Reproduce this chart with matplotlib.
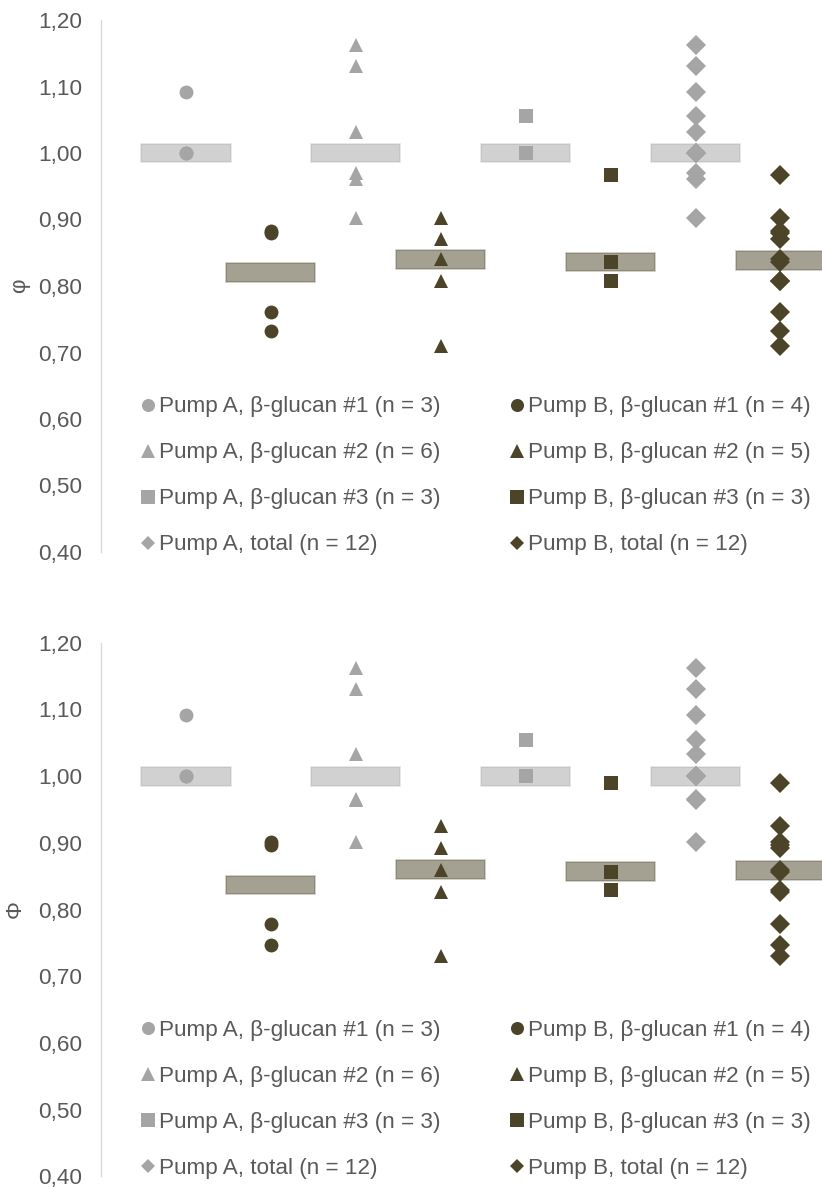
import numpy as np
import matplotlib
matplotlib.use("Agg")
import matplotlib.pyplot as plt
from matplotlib.lines import Line2D
from matplotlib.ticker import FuncFormatter

#Data ---------------------------------------------------------------------
# top panel (phi)
a1_top = [1.091, 1.000, 1.000]
b1_top = [0.882, 0.879, 0.761, 0.732]
a2_top = [1.162, 1.131, 1.032, 0.970, 0.961, 0.902]
b2_top = [0.902, 0.871, 0.840, 0.807, 0.710]
a3_top = [1.055, 1.000, 1.000]
b3_top = [0.967, 0.836, 0.808]
med_a_top = [1.000, 1.000, 1.000, 1.000]
med_b_top = [0.820, 0.840, 0.836, 0.838]

# bottom panel (Phi)
a1_bot = [1.091, 1.000, 1.000]
b1_bot = [0.901, 0.897, 0.778, 0.747]
a2_bot = [1.162, 1.130, 1.033, 0.966, 0.964, 0.902]
b2_bot = [0.925, 0.892, 0.860, 0.827, 0.730]
a3_bot = [1.054, 1.000, 1.000]
b3_bot = [0.990, 0.857, 0.830]
med_a_bot = [1.000, 1.000, 1.000, 1.000]
med_b_bot = [0.837, 0.860, 0.857, 0.8585]

labels_a = ["Pump A, \u03b2-glucan #1 (n = 3)", "Pump A, \u03b2-glucan #2 (n = 6)",
            "Pump A, \u03b2-glucan #3 (n = 3)", "Pump A, total (n = 12)"]
labels_b = ["Pump B, \u03b2-glucan #1 (n = 4)", "Pump B, \u03b2-glucan #2 (n = 5)",
            "Pump B, \u03b2-glucan #3 (n = 3)", "Pump B, total (n = 12)"]
yticks = [0.40, 0.50, 0.60, 0.70, 0.80, 0.90, 1.00, 1.10, 1.20]
#--------------------------------------------------------------------------

#Style ####################################################################
plt.rcParams['font.family'] = ['Liberation Sans', 'DejaVu Sans']
FS = 16.2
TXT = '#595959'
COL_A = '#a5a5a5'
COL_B = '#4b4429'
MARKERS = ['o', '^', 's', 'D']
BAR_H = 0.028
###########################################################################


def draw_panel(ax, a_groups, b_groups, med_a, med_b, ylab, ylab_x):
    # A groups at 1,3,5,7 ; B groups at 2,4,6,8 ; totals are the merged groups
    a_all = a_groups + [sum(a_groups, [])]
    b_all = b_groups + [sum(b_groups, [])]
    for i in range(4):
        xa = 1 + 2 * i
        xb = 2 + 2 * i
        ax.bar(xa, BAR_H, width=1.05, bottom=med_a[i] - BAR_H / 2,
               facecolor=matplotlib.colors.to_rgba(COL_A, 0.5),
               edgecolor=matplotlib.colors.to_rgba(COL_A, 0.3), linewidth=1.2, zorder=2)
        ax.bar(xb, BAR_H, width=1.05, bottom=med_b[i] - BAR_H / 2,
               facecolor=matplotlib.colors.to_rgba(COL_B, 0.5),
               edgecolor=matplotlib.colors.to_rgba(COL_B, 0.3), linewidth=1.2, zorder=2)
        ax.plot(np.full(len(a_all[i]), xa), a_all[i], linestyle='none', marker=MARKERS[i],
                markersize=10, color=COL_A, markeredgewidth=0, zorder=3)
        ax.plot(np.full(len(b_all[i]), xb), b_all[i], linestyle='none', marker=MARKERS[i],
                markersize=10, color=COL_B, markeredgewidth=0, zorder=3)

    ax.set_xlim(0, 721 / 84.93)
    ax.set_ylim(0.40, 1.20)
    ax.set_yticks(yticks)
    ax.yaxis.set_major_formatter(FuncFormatter(lambda v, p: f"{v:.2f}".replace('.', ',')))
    ax.set_xticks([])
    ax.tick_params(axis='y', length=0, pad=13.7, labelsize=FS, labelcolor=TXT)
    for s in ['top', 'right', 'bottom']:
        ax.spines[s].set_visible(False)
    ax.spines['left'].set_color('#d9d9d9')
    ax.spines['left'].set_linewidth(1.0)

    ax.set_ylabel(ylab, fontsize=FS, color=TXT)
    ax.yaxis.set_label_coords(ylab_x, 0.5)

    #Legend (column 1 = pump A, column 2 = pump B)
    sizes = [9.4, 9.6, 9.6, 7.6]
    handles = [Line2D([], [], linestyle='none', marker=MARKERS[i], markersize=sizes[i],
                      color=COL_A, markeredgewidth=0) for i in range(4)]
    handles += [Line2D([], [], linestyle='none', marker=MARKERS[i], markersize=sizes[i],
                       color=COL_B, markeredgewidth=0) for i in range(4)]
    ax.legend(handles, labels_a + labels_b, ncol=2, loc='upper left',
              bbox_to_anchor=(0.0562, 0.2923), frameon=False, handlelength=0.6,
              handletextpad=0.19, columnspacing=3.1, labelspacing=1.11,
              borderpad=0, borderaxespad=0, fontsize=FS, labelcolor=TXT)


#Figure ###################################################################
fig = plt.figure(figsize=(8.22, 11.87), dpi=100)

ax1 = fig.add_axes([101 / 822, 1 - 552 / 1187, 721 / 822, 532 / 1187])
draw_panel(ax1, [a1_top, a2_top, a3_top], [b1_top, b2_top, b3_top],
           med_a_top, med_b_top, '\u03c6', -0.0985)

ax2 = fig.add_axes([101 / 822, 1 - 1176.3 / 1187, 721 / 822, 533.5 / 1187])
draw_panel(ax2, [a1_bot, a2_bot, a3_bot], [b1_bot, b2_bot, b3_bot],
           med_a_bot, med_b_bot, '\u03a6', -0.105)

fig.savefig('out.png', dpi=100)
